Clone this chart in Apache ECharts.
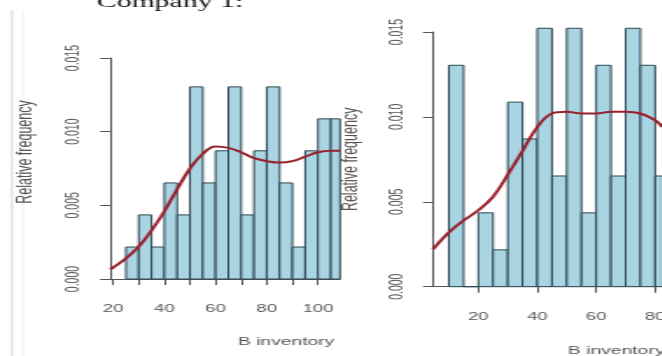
<!DOCTYPE html>
<html>
<head>
<meta charset="utf-8">
<script src="https://cdn.jsdelivr.net/npm/echarts@6/dist/echarts.min.js"></script>
<style>
  html, body { margin: 0; padding: 0; background: #fff; overflow: hidden; }
  #wrap { width: 662px; height: 356px; overflow: hidden; position: relative; }
  #chart { width: 378.3px; height: 356px; transform: scaleX(1.75); transform-origin: 0 0; position: absolute; left: 0; top: 0; }
</style>
</head>
<body>
<div id="wrap"><div id="chart"></div></div>
<script>
// ---- data ----
const binWidth = 5;
const leftBinStart = 25;
const leftDensity = [0.00217, 0.00435, 0.00217, 0.00652, 0.00435, 0.01304, 0.00652, 0.0087, 0.01304,
                     0.00435, 0.0087, 0.01304, 0.00652, 0.00217, 0.0087, 0.01087, 0.01087];
const rightBinStart = 10;
const rightDensity = [0.01304, 0, 0.00435, 0.00217, 0.01087, 0.0087, 0.01522, 0.00652, 0.01522,
                      0.00435, 0.01304, 0.00652, 0.01522, 0.01304, 0.00652];
const leftCurveX = [18.8, 20, 25, 30, 35, 40, 45, 50, 55, 60, 65, 70, 75, 80, 85, 90, 95, 100, 105, 108.6];
const leftCurveY = [0.00066, 0.00078, 0.0014, 0.0022, 0.0033, 0.0046, 0.0061, 0.0075, 0.0085, 0.0090,
                    0.0089, 0.0086, 0.0082, 0.0080, 0.0079, 0.0080, 0.0083, 0.0086, 0.0087, 0.0087];
const rightCurveX = [4.6, 10, 15, 20, 25, 30, 35, 40, 45, 50, 55, 60, 65, 70, 75, 80, 82.4];
const rightCurveY = [0.0022, 0.0032, 0.0039, 0.0045, 0.0053, 0.0066, 0.0080, 0.0094, 0.0102, 0.0103,
                     0.0102, 0.0102, 0.0103, 0.0103, 0.0102, 0.0098, 0.0094];
const yTicks = [0, 0.005, 0.010, 0.015];
const leftXTicks = [20, 30, 40, 50, 60, 70, 80, 90, 100];
const leftXLabels = [20, 40, 60, 80, 100];
const rightXTicks = [20, 40, 60, 80];
const rightXLabels = [20, 40, 60, 80];
const titleText = 'Company 1:';
const xName = 'B inventory';
const yName = 'Relative frequency';

// ---- build ----
function bins(start, vals) {
  return vals.map((v, i) => [start + i * binWidth, start + (i + 1) * binWidth, v]);
}
function pairs(xs, ys) { return xs.map((x, i) => [x, ys[i]]); }

const barFill = '#a9d5e2';
const barStroke = '#2e4452';
const axisColor = '#555';
const textColor = '#555';
const font = 'Liberation Sans, Arial, sans-serif';

function renderHist(params, api) {
  const x0 = api.value(0), x1 = api.value(1), h = api.value(2);
  const p0 = api.coord([x0, 0]);
  const p1 = api.coord([x1, h]);
  const rect = { x: p0[0], y: p1[1], width: p1[0] - p0[0], height: p0[1] - p1[1] };
  const cs = params.coordSys;
  const clipped = echarts.graphic.clipRectByRect(rect, { x: cs.x, y: cs.y - 500, width: cs.width, height: cs.height + 500 });
  if (!clipped) return;
  return { type: 'rect', shape: clipped, style: { fill: barFill, stroke: barStroke, lineWidth: 1 } };
}

function yAxisCfg(gridIndex, nameGap, namePad) {
  return {
    type: 'value', gridIndex: gridIndex, min: yTicks[0], max: yTicks[yTicks.length - 1], interval: 0.005,
    name: yName, nameLocation: 'middle', nameGap: nameGap, nameRotate: 90,
    nameTextStyle: { fontFamily: font, fontSize: 12.5, color: textColor, padding: namePad },
    axisLine: { show: true, lineStyle: { color: axisColor, width: 1 } },
    axisTick: { show: true, length: 5.7, lineStyle: { color: axisColor } },
    axisLabel: { rotate: 90, margin: 15, fontFamily: font, fontSize: 10.5, color: textColor,
                 formatter: v => v.toFixed(3) },
    splitLine: { show: false }
  };
}
function xAxisCfg(gridIndex, min, max, offset, ticks, labels, margin) {
  return {
    type: 'value', gridIndex: gridIndex, min: min, max: max, offset: offset,
    axisLine: { show: true, lineStyle: { color: axisColor, width: 1 } },
    axisTick: { show: true, length: 6, customValues: ticks, lineStyle: { color: axisColor } },
    axisLabel: { customValues: labels, margin: margin, fontFamily: font, fontSize: 10.5, color: textColor },
    splitLine: { show: false }
  };
}

const chart = echarts.init(document.getElementById('chart'), null, { renderer: 'canvas' });
chart.setOption({
  backgroundColor: '#fff',
  animation: false,
  title: {
    text: titleText, left: 50.3, top: -11,
    textStyle: { fontFamily: 'Liberation Serif, Times New Roman, serif', fontWeight: 'normal', fontSize: 17, color: '#111' }
  },
  graphic: [
    { type: 'line', shape: { x1: 6.9, y1: 10, x2: 6.9, y2: 356 }, style: { stroke: '#d6d6d6', lineWidth: 1 } },
    { type: 'line', shape: { x1: 13.1, y1: 10, x2: 13.1, y2: 356 }, style: { stroke: '#f0f0f0', lineWidth: 1 } },
    { type: 'text', left: 136, top: 336, style: { text: xName, fontFamily: font, fontSize: 11, fill: textColor } },
    { type: 'text', left: 324.6, top: 345, style: { text: xName, fontFamily: font, fontSize: 11, fill: textColor } }
  ],
  grid: [
    { left: 62.9, top: 58, width: 131.4, height: 221, outerBoundsMode: 'none' },
    { left: 247.4, top: 32, width: 131, height: 254.7, outerBoundsMode: 'none' }
  ],
  xAxis: [
    xAxisCfg(0, 18.8, 108.6, 11, leftXTicks, leftXLabels, 14),
    xAxisCfg(1, 4.6, 82.4, 10, rightXTicks, rightXLabels, 15)
  ],
  yAxis: [
    yAxisCfg(0, 42, [0, 0, 0, 33]),
    yAxisCfg(1, 40, 0)
  ],
  series: [
    { type: 'custom', xAxisIndex: 0, yAxisIndex: 0, renderItem: renderHist, encode: { x: [0, 1], y: 2 },
      data: bins(leftBinStart, leftDensity), clip: false },
    { type: 'custom', xAxisIndex: 1, yAxisIndex: 1, renderItem: renderHist, encode: { x: [0, 1], y: 2 },
      data: bins(rightBinStart, rightDensity), clip: false },
    { type: 'line', xAxisIndex: 0, yAxisIndex: 0, data: pairs(leftCurveX, leftCurveY), smooth: 0.4,
      showSymbol: false, lineStyle: { color: '#9a1f2c', width: 2 } },
    { type: 'line', xAxisIndex: 1, yAxisIndex: 1, data: pairs(rightCurveX, rightCurveY), smooth: 0.4,
      showSymbol: false, lineStyle: { color: '#9a1f2c', width: 2 } }
  ]
});
</script>
</body>
</html>
